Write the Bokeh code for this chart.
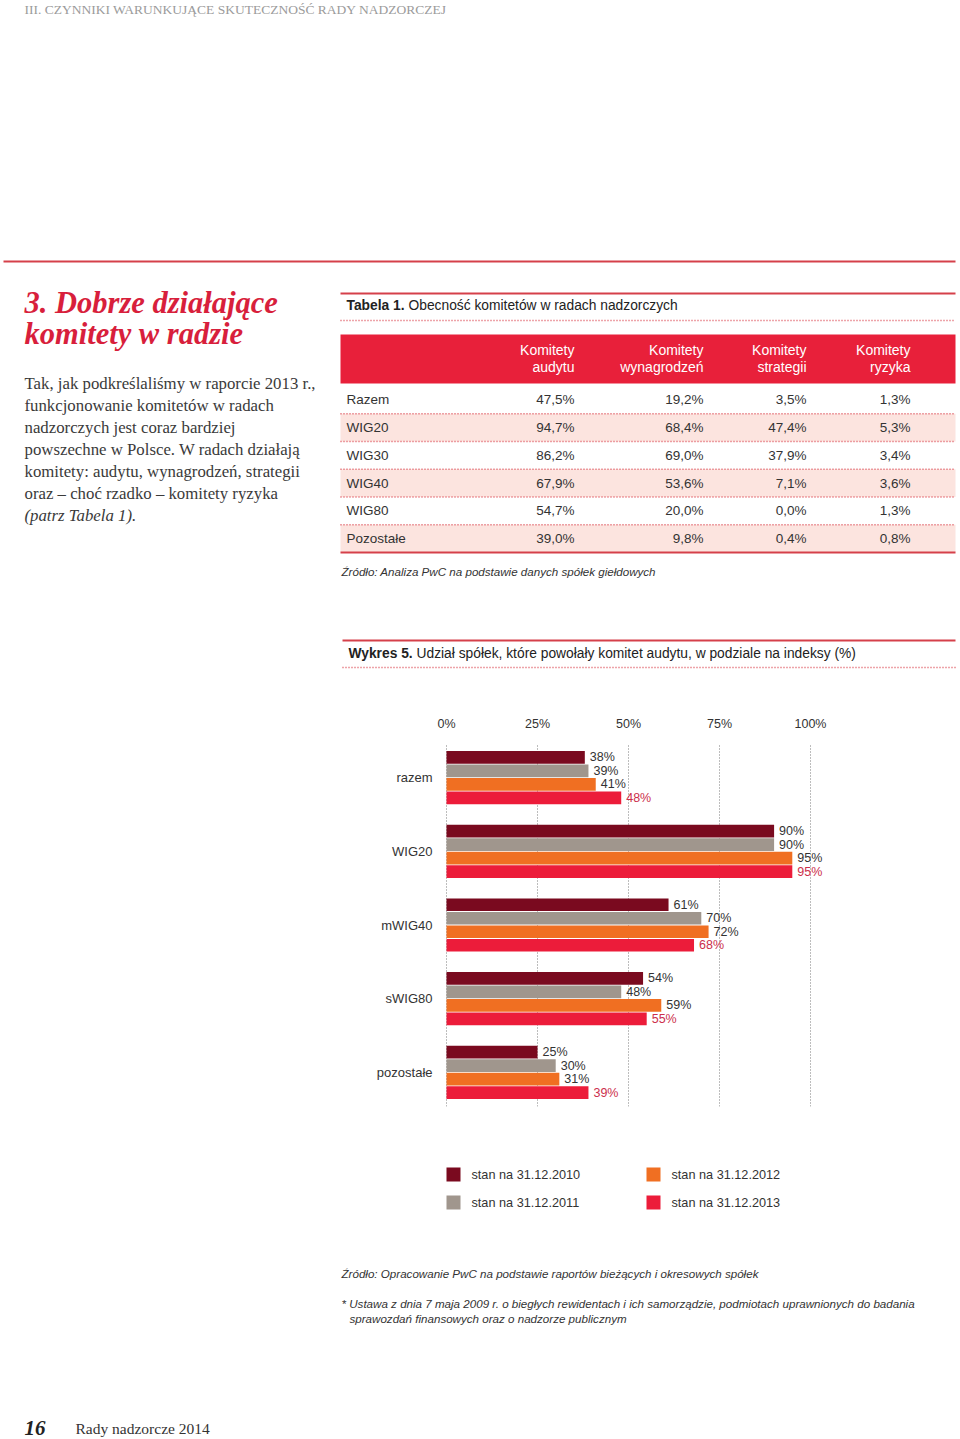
from bokeh.plotting import figure
from bokeh.models import Range1d, FactorRange, FixedTicker, ColumnDataSource
from bokeh.layouts import column
from bokeh.embed import file_html
from bokeh.resources import INLINE
from bokeh.core.properties import value

# ---------------- data ----------------
page_header = "III. CZYNNIKI WARUNKUJĄCE SKUTECZNOŚĆ RADY NADZORCZEJ"
heading_lines = ["3. Dobrze działające", "komitety w radzie"]
para_lines = [
    "Tak, jak podkreślaliśmy w raporcie 2013 r.,",
    "funkcjonowanie komitetów w radach",
    "nadzorczych jest coraz bardziej",
    "powszechne w Polsce. W radach działają",
    "komitety: audytu, wynagrodzeń, strategii",
    "oraz – choć rzadko – komitety ryzyka",
]
para_last = "(patrz Tabela 1)."

table_title_bold = "Tabela 1."
table_title = "Obecność komitetów w radach nadzorczych"
table_rows = ["Razem", "WIG20", "WIG30", "WIG40", "WIG80", "Pozostałe"]
table_head_top = ["Komitety", "Komitety", "Komitety", "Komitety"]
table_head_bottom = ["audytu", "wynagrodzeń", "strategii", "ryzyka"]
tab_audytu = [47.5, 94.7, 86.2, 67.9, 54.7, 39.0]
tab_wynagrodzen = [19.2, 68.4, 69.0, 53.6, 20.0, 9.8]
tab_strategii = [3.5, 47.4, 37.9, 7.1, 0.0, 0.4]
tab_ryzyka = [1.3, 5.3, 3.4, 3.6, 1.3, 0.8]
table_source = "Źródło: Analiza PwC na podstawie danych spółek giełdowych"

chart_title_bold = "Wykres 5."
chart_title = "Udział spółek, które powołały komitet audytu, w podziale na indeksy (%)"
categories = ["razem", "WIG20", "mWIG40", "sWIG80", "pozostałe"]
series = ["stan na 31.12.2010", "stan na 31.12.2011", "stan na 31.12.2012", "stan na 31.12.2013"]
s2010 = [38, 90, 61, 54, 25]
s2011 = [39, 90, 70, 48, 30]
s2012 = [41, 95, 72, 59, 31]
s2013 = [48, 95, 68, 55, 39]
ticks = [0, 25, 50, 75, 100]
chart_source = "Źródło: Opracowanie PwC na podstawie raportów bieżących i okresowych spółek"
footnote_lines = [
    "* Ustawa z dnia 7 maja 2009 r. o biegłych rewidentach i ich samorządzie, podmiotach uprawnionych do badania",
    "sprawozdań finansowych oraz o nadzorze publicznym",
]
footer_num = "16"
footer_text = "Rady nadzorcze 2014"

# ---------------- styles ----------------
W = 960
SANS = "Liberation Sans"
SERIF = "Liberation Serif"
TXT = "#333333"
RED_LINE = "#d5404a"
DOT_RED = "#dc4a55"
BAND = "#e8203a"
PINK = "#fce4df"
HEAD_RED = "#d81f3c"
colors = ["#7a0a1f", "#a0968d", "#f06f22", "#ec1c3a"]
label_colors = [TXT, TXT, TXT, "#cc2f4c"]


def page_fig(y0, y1):
    p = figure(width=W, height=y1 - y0, x_range=Range1d(0, W), y_range=Range1d(y1, y0),
               x_axis_location=None, y_axis_location=None, toolbar_location=None,
               output_backend="svg", min_border=0)
    p.outline_line_color = None
    p.grid.visible = False
    return p


def txt(p, x, y, s, size, color=TXT, font=SANS, style="normal", align="left", baseline="middle"):
    p.text(x=[x], y=[y], text=[s], text_font=value(font), text_font_size=f"{size}px",
           text_font_style=style, text_color=color, text_align=align, text_baseline=baseline)


def hline(p, x0, x1, y, color, width, dash="solid"):
    p.segment(x0=[x0], y0=[y], x1=[x1], y1=[y], line_color=color, line_width=width, line_dash=dash)


# ---------------- top part ----------------
pt = page_fig(0, 700)
txt(pt, 24, 9, page_header, 13.5, color="#9b9b9b", font=SERIF)
hline(pt, 3, 955, 261, RED_LINE, 2)
for i, line in enumerate(heading_lines):
    txt(pt, 24, 302 + 31 * i, line, 30.5, color=HEAD_RED, font=SERIF, style="bold italic")
for i, line in enumerate(para_lines):
    txt(pt, 24, 383 + 22 * i, line, 16.8, color="#3a3a3a", font=SERIF)
txt(pt, 24, 383 + 22 * len(para_lines), para_last, 16.8, color="#3a3a3a", font=SERIF, style="italic")

# table
hline(pt, 340, 955, 293, RED_LINE, 2)
txt(pt, 346, 305, table_title_bold, 13.8, style="bold", color="#222222")
txt(pt, 408, 305, table_title, 13.8, color="#222222")
hline(pt, 340, 955, 320, DOT_RED, 1.5, "1 2")
pt.quad(left=[340], right=[955], top=[334], bottom=[383], fill_color=BAND, line_color=None)
col_x = [574, 703, 806, 910]
for cx, a, b in zip(col_x, table_head_top, table_head_bottom):
    txt(pt, cx, 349, a, 14, color="white", align="right")
    txt(pt, cx, 366, b, 14, color="white", align="right")
row_top0 = 385.5
row_h = 27.75
for i, name in enumerate(table_rows):
    top = row_top0 + i * row_h
    if i % 2 == 1:
        pt.quad(left=[340], right=[955], top=[top], bottom=[top + row_h], fill_color=PINK, line_color=None)
    if i > 0:
        hline(pt, 340, 955, top, DOT_RED, 1.5, "1 2")
    cy = top + row_h / 2
    txt(pt, 346, cy, name, 13.5)
    for cx, col in zip(col_x, [tab_audytu, tab_wynagrodzen, tab_strategii, tab_ryzyka]):
        txt(pt, cx, cy, f"{col[i]:.1f}".replace(".", ",") + "%", 13.5, align="right")
hline(pt, 340, 955, row_top0 + len(table_rows) * row_h, RED_LINE, 2)
txt(pt, 341, 571, table_source, 11.6, style="italic")

# chart title
hline(pt, 342, 955, 640, RED_LINE, 2)
txt(pt, 348, 653, chart_title_bold, 13.8, style="bold", color="#222222")
txt(pt, 416, 653, chart_title, 13.8, color="#222222")
hline(pt, 342, 955, 667, DOT_RED, 1.5, "1 2")

# ---------------- chart ----------------
zero_px, px_per_pct = 446.0, 3.64
xr = Range1d((0 - zero_px) / px_per_pct, (W - zero_px) / px_per_pct)
factors = [(c, s) for c in reversed(categories) for s in reversed(series)]
yr = FactorRange(factors=factors, factor_padding=0.0, group_padding=1.46,
                 range_padding=0.525, range_padding_units="absolute")
pc = figure(width=W, height=440, x_range=xr, y_range=yr, x_axis_location="above",
            y_axis_location=None, toolbar_location=None, output_backend="svg",
            min_border_left=0, min_border_right=0, min_border_top=43, min_border_bottom=34)
pc.outline_line_color = None
pc.ygrid.visible = False
pc.xaxis.ticker = FixedTicker(ticks=ticks)
pc.xaxis.major_label_overrides = {t: f"{t}%" for t in ticks}
pc.xaxis.axis_line_color = None
pc.xaxis.major_tick_line_color = None
pc.xaxis.minor_tick_line_color = None
pc.xaxis.major_label_standoff = 7
pc.xaxis.major_label_text_font = SANS
pc.xaxis.major_label_text_font_size = "12.5px"
pc.xaxis.major_label_text_color = TXT
pc.xgrid.ticker = FixedTicker(ticks=ticks)
pc.xgrid.grid_line_color = "#7a7a7a"
pc.xgrid.grid_line_dash = "1 2"
pc.xgrid.grid_line_width = 1

for s, vals, c, lc in zip(series, [s2010, s2011, s2012, s2013], colors, label_colors):
    src = ColumnDataSource(dict(y=[(cat, s) for cat in categories], v=vals, t=[f"{v}%" for v in vals]))
    pc.hbar(y="y", left=0, right="v", height=0.94, source=src, fill_color=c, line_color=None)
    pc.text(x="v", y="y", text="t", source=src, x_offset=5, text_baseline="middle", text_align="left",
            text_font=value(SANS), text_font_size="12.5px", text_color=lc)

csrc = ColumnDataSource(dict(y=categories, x=[0] * len(categories)))
pc.text(x="x", y="y", text="y", source=csrc, x_offset=-14, text_align="right", text_baseline="middle",
        text_font=value(SANS), text_font_size="13px", text_color=TXT)

# ---------------- bottom part ----------------
pb = page_fig(1140, 1439)
for i, (s, c) in enumerate(zip(series, colors)):
    col, row = divmod(i, 2)
    lx = 453 + 200 * col
    ly = 1174 + 28 * row
    pb.rect(x=[lx], y=[ly], width=14, height=14, fill_color=c, line_color=None)
    txt(pb, lx + 18, ly, s, 12.7)
txt(pb, 341, 1273, chart_source, 11.6, style="italic")
txt(pb, 341, 1303, footnote_lines[0], 11.6, style="italic")
txt(pb, 349, 1318, footnote_lines[1], 11.6, style="italic")
txt(pb, 24, 1427, footer_num, 21, color="#222222", font=SERIF, style="bold italic")
txt(pb, 75, 1428, footer_text, 15.5, color=TXT, font=SERIF)

layout = column(pt, pc, pb)
open("out.html", "w").write(file_html(layout, INLINE))
